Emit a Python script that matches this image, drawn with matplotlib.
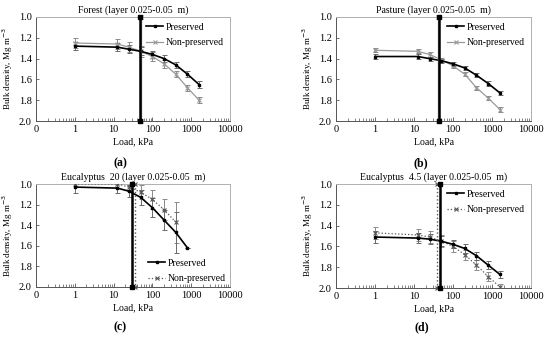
import matplotlib
matplotlib.use("Agg")
import matplotlib.pyplot as plt
from matplotlib.ticker import FixedLocator, LogLocator, NullFormatter

plt.rcParams['font.family'] = ['Liberation Serif', 'DejaVu Serif']

loads = [1, 12.5, 25, 50, 100, 200, 400, 800, 1600]

titles = ["Forest (layer 0.025-0.05  m)", "Pasture (layer 0.025-0.05  m)",
          "Eucalyptus  20 (layer 0.025-0.05  m)", "Eucalyptus  4.5 (layer 0.025-0.05  m)"]
panel_tags = ["a", "b", "c", "d"]

forest_pres = [1.28, 1.29, 1.31, 1.33, 1.36, 1.40, 1.46, 1.55, 1.65]
forest_pres_err = [0.04, 0.04, 0.04, 0.04, 0.03, 0.03, 0.03, 0.03, 0.03]
forest_non = [1.25, 1.26, 1.29, 1.33, 1.38, 1.45, 1.55, 1.68, 1.80]
forest_non_err = [0.05, 0.05, 0.05, 0.05, 0.04, 0.04, 0.03, 0.03, 0.03]

pasture_pres = [1.38, 1.38, 1.40, 1.42, 1.45, 1.49, 1.56, 1.64, 1.73]
pasture_pres_err = [0.02, 0.02, 0.02, 0.02, 0.02, 0.02, 0.02, 0.02, 0.02]
pasture_non = [1.32, 1.33, 1.36, 1.41, 1.47, 1.55, 1.68, 1.78, 1.89]
pasture_non_err = [0.02, 0.02, 0.02, 0.02, 0.02, 0.02, 0.02, 0.02, 0.02]

euc20_loads_pres = [1, 12.5, 25, 50, 100, 200, 400, 800]
euc20_pres = [1.03, 1.04, 1.07, 1.13, 1.23, 1.35, 1.47, 1.62]
euc20_pres_err = [0.06, 0.05, 0.06, 0.07, 0.09, 0.10, 0.20, 0.0]
euc20_loads_non = [1, 12.5, 25, 50, 100, 200, 400]
euc20_non = [1.00, 1.00, 1.03, 1.08, 1.15, 1.25, 1.37]
euc20_non_err = [0.0, 0.0, 0.04, 0.07, 0.09, 0.10, 0.20]

euc45_pres = [1.51, 1.52, 1.53, 1.55, 1.58, 1.62, 1.69, 1.78, 1.87]
euc45_pres_err = [0.06, 0.05, 0.05, 0.05, 0.04, 0.04, 0.04, 0.04, 0.03]
euc45_non = [1.47, 1.49, 1.51, 1.55, 1.60, 1.68, 1.78, 1.89, 1.99]
euc45_non_err = [0.06, 0.06, 0.06, 0.06, 0.05, 0.05, 0.05, 0.04, 0.03]

# pre-consolidation vertical lines (kPa)
vline_pres = [48, 45, 30, 47]
vline_non = [50, 42, 35, 40]

panels = [
    (loads, forest_pres, forest_pres_err, loads, forest_non, forest_non_err),
    (loads, pasture_pres, pasture_pres_err, loads, pasture_non, pasture_non_err),
    (euc20_loads_pres, euc20_pres, euc20_pres_err, euc20_loads_non, euc20_non, euc20_non_err),
    (loads, euc45_pres, euc45_pres_err, loads, euc45_non, euc45_non_err),
]

W, H = 550, 340
boxes = [(36, 17, 230, 121), (336, 17, 531, 121), (36, 184, 230, 287), (336, 184, 531, 288)]
tag_pos = [(120, 163), (421, 163), (120, 327), (422, 327)]

fig = plt.figure(figsize=(5.5, 3.4), dpi=100)

for i, (xp, yp, ep, xn, yn, en) in enumerate(panels):
    l, t, r, b = boxes[i]
    ax = fig.add_axes([l / W, 1 - b / H, (r - l) / W, (b - t) / H])
    ax.set_xscale('log')
    ax.set_xlim(0.1, 10000)
    ax.set_ylim(2.0, 1.0)

    dotted = i >= 2
    non_color = '#555555' if dotted else '#9a9a9a'
    non_ls = ':' if dotted else '-'

    # error bars
    ax.errorbar(xn, yn, yerr=en, fmt='none', ecolor='#8a8a8a', elinewidth=0.7,
                capsize=1.8, capthick=0.7, zorder=2)
    ax.errorbar(xp, yp, yerr=ep, fmt='none', ecolor='#6a6a6a', elinewidth=0.7,
                capsize=1.8, capthick=0.7, zorder=2)

    ax.plot(xn, yn, color=non_color, ls=non_ls, lw=0.9, marker='x', ms=3,
            mew=0.8, label='Non-preserved', zorder=3)
    ax.plot(xp, yp, color='black', ls='-', lw=1.2, marker='s', ms=2,
            label='Preserved', zorder=4)

    # vertical lines
    ax.plot([vline_non[i], vline_non[i]], [1.0, 2.0], color=non_color, ls=non_ls,
            lw=1.0, marker='x', ms=3, mew=0.8, zorder=4, clip_on=False)
    ax.plot([vline_pres[i], vline_pres[i]], [1.0, 2.0], color='black', lw=1.8,
            marker='s', ms=2.5, zorder=5, clip_on=False)

    ax.xaxis.set_major_locator(FixedLocator([0.1, 1, 10, 100, 1000, 10000]))
    ax.set_xticklabels(['0', '1', '10', '100', '1000', '10000'])
    ax.xaxis.set_minor_locator(LogLocator(base=10, subs=range(2, 10), numticks=20))
    ax.xaxis.set_minor_formatter(NullFormatter())
    ax.set_yticks([1.0, 1.2, 1.4, 1.6, 1.8, 2.0])
    ax.set_yticklabels(['1.0', '1.2', '1.4', '1.6', '1.8', '2.0'])
    ax.tick_params(axis='both', which='both', direction='in', labelsize=7.5,
                   color='#555555', pad=3)
    ax.tick_params(axis='x', which='major', length=3, width=0.6)
    ax.tick_params(axis='x', which='minor', length=2, width=0.5)
    ax.tick_params(axis='y', which='major', length=2.5, width=0.6)

    for s in ['top', 'right']:
        ax.spines[s].set_color('#b0b0b0')
        ax.spines[s].set_linewidth(0.7)
    for s in ['left', 'bottom']:
        ax.spines[s].set_color('#555555')
        ax.spines[s].set_linewidth(0.7)

    ax.set_title(titles[i], fontsize=7, pad=3)
    ax.set_xlabel('Load, kPa', fontsize=7, labelpad=2)
    ax.set_ylabel('Bulk density, Mg m$^{-3}$', fontsize=6.5, labelpad=3)

    handles, labels = ax.get_legend_handles_labels()
    order = [1, 0]
    leg = ax.legend([handles[k] for k in order], [labels[k] for k in order],
                    loc='lower right' if i == 2 else 'upper right',
                    frameon=False, fontsize=7, handlelength=1.75,
                    handletextpad=0.3, borderpad=0.4,
                    borderaxespad=0.0 if i == 2 else 0.2, labelspacing=0.65)

    tx, ty = tag_pos[i]
    fig.text(tx / W, 1 - ty / H, '(' + panel_tags[i] + ')', fontsize=8.5,
             fontweight='bold', ha='center', va='center')

fig.savefig('out.png', dpi=100)
